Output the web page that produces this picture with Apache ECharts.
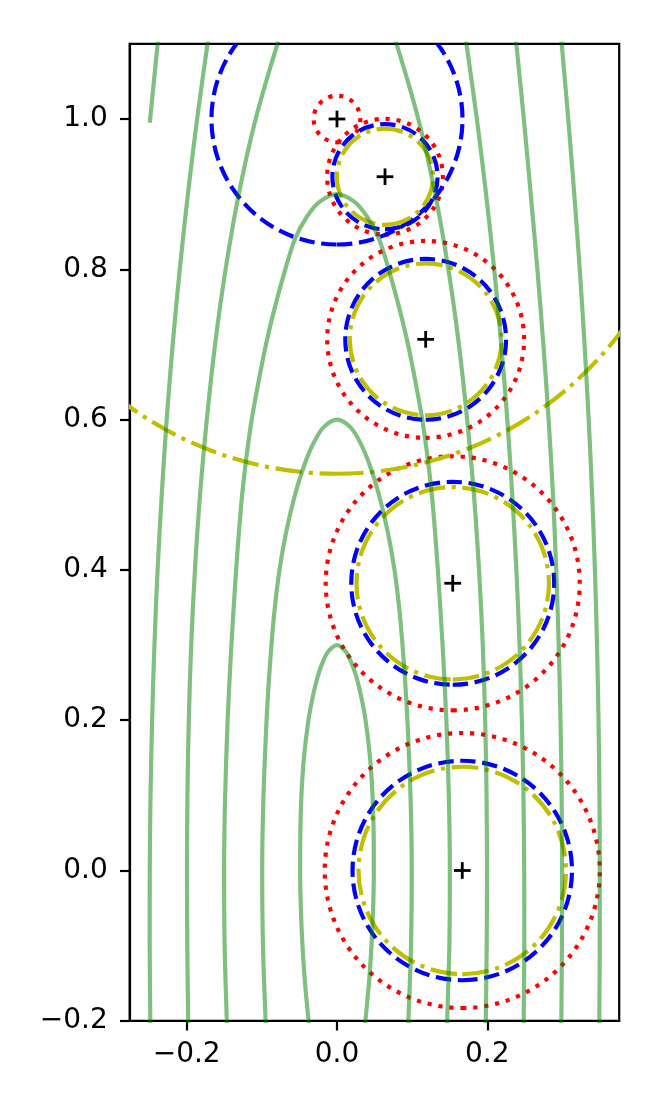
<!DOCTYPE html>
<html>
<head>
<meta charset="utf-8">
<script src="https://cdn.jsdelivr.net/npm/echarts@6.0.0/dist/echarts.min.js"></script>
<style>
html, body { margin: 0; padding: 0; background: #fff; }
#main { width: 664px; height: 1107px; }
</style>
</head>
<body>
<div id="main"></div>
<script>
// centres marked with "+"
var centers = [[0, 1.0], [0.0639, 0.9232], [0.118, 0.7068], [0.154, 0.3822], [0.1667, 0.0]];
// radius of each ring around the centres
var redRadius = [0.031, 0.077, 0.131, 0.169, 0.183];
var blueRadius = [0.167, 0.070, 0.107, 0.135, 0.146];
var yellowRadius = [0.472, 0.064, 0.101, 0.128, 0.138];

// green curves
// the three closed tops (y values from the left foot, over the top, to the right foot)
var capAY = [-0.23, -0.2, -0.15, -0.1, -0.05, 0, 0.05, 0.1, 0.15, 0.2, 0.23, 0.26, 0.28, 0.292, 0.3,
  0.292, 0.28, 0.26, 0.23, 0.2, 0.15, 0.1, 0.05, 0, -0.05, -0.1, -0.15, -0.2, -0.23];
var capAX = [-0.0345, -0.0378, -0.0425, -0.0459, -0.0481, -0.049, -0.0488, -0.0473, -0.044, -0.038, -0.0325, -0.0251, -0.0178, -0.0113, 0,
  0.0113, 0.0178, 0.0251, 0.0325, 0.038, 0.044, 0.0473, 0.0488, 0.049, 0.0481, 0.0459, 0.0425, 0.0378, 0.0345];
var capBY = [-0.23, -0.2, -0.1, 0, 0.1, 0.2, 0.25, 0.3, 0.35, 0.4, 0.45, 0.5, 0.54, 0.57, 0.59, 0.6,
  0.59, 0.57, 0.54, 0.5, 0.45, 0.4, 0.35, 0.3, 0.25, 0.2, 0.1, 0, -0.1, -0.2, -0.23];
var capBX = [-0.0937, -0.095, -0.0985, -0.0995, -0.0978, -0.0937, -0.0908, -0.0872, -0.0827, -0.0765, -0.0677, -0.0559, -0.0433, -0.0306, -0.0177, 0,
  0.0177, 0.0306, 0.0433, 0.0559, 0.0677, 0.0765, 0.0827, 0.0872, 0.0908, 0.0937, 0.0978, 0.0995, 0.0985, 0.095, 0.0937];
var capCY = [-0.23, -0.2, -0.1, 0, 0.1, 0.2, 0.3, 0.4, 0.45, 0.5, 0.55, 0.6, 0.65, 0.7, 0.75, 0.8, 0.84, 0.87, 0.89, 0.9,
  0.89, 0.87, 0.84, 0.8, 0.75, 0.7, 0.65, 0.6, 0.55, 0.5, 0.45, 0.4, 0.3, 0.2, 0.1, 0, -0.1, -0.2, -0.23];
var capCX = [-0.1455, -0.1466, -0.1495, -0.1502, -0.1488, -0.1455, -0.1405, -0.1342, -0.1305, -0.1262, -0.1205, -0.1135, -0.1045, -0.0945, -0.0825, -0.0688, -0.056, -0.04, -0.0229, 0,
  0.0229, 0.04, 0.056, 0.0688, 0.0825, 0.0945, 0.1045, 0.1135, 0.1205, 0.1262, 0.1305, 0.1342, 0.1405, 0.1455, 0.1488, 0.1502, 0.1495, 0.1466, 0.1455];

// the open branches, all sampled at the same heights
var branchY = [-0.23, -0.2, -0.1, 0, 0.1, 0.2, 0.3, 0.4, 0.5, 0.6, 0.7, 0.8, 0.9, 1.0, 1.1, 1.13];
var curve2LeftX = [-0.1976, -0.198, -0.1992, -0.1996, -0.199, -0.1972, -0.194, -0.189, -0.1822, -0.1732, -0.1622, -0.1482, -0.1307, -0.1082, -0.0792, -0.0681];
var curve2RightX = [0.1976, 0.198, 0.1992, 0.1996, 0.199, 0.1972, 0.194, 0.189, 0.1822, 0.1732, 0.1622, 0.1482, 0.1307, 0.1082, 0.0792, 0.0681];
var curve1LeftX = [-0.2482, -0.2484, -0.2492, -0.2491, -0.2481, -0.246, -0.2429, -0.2387, -0.2332, -0.2266, -0.2186, -0.2092, -0.1984, -0.1861, -0.1723, -0.1678];
var curve1RightX = [0.2482, 0.2484, 0.2492, 0.2491, 0.2481, 0.246, 0.2429, 0.2387, 0.2332, 0.2266, 0.2186, 0.2092, 0.1984, 0.1861, 0.1723, 0.1678];
var curve3RightX = [0.2983, 0.2985, 0.2993, 0.2995, 0.2989, 0.2974, 0.295, 0.2917, 0.2874, 0.2816, 0.2746, 0.2666, 0.2578, 0.2486, 0.2386, 0.2352];
var curve4RightX = [0.3488, 0.349, 0.3496, 0.3497, 0.3492, 0.348, 0.346, 0.3432, 0.3395, 0.3349, 0.3294, 0.323, 0.3157, 0.3077, 0.299, 0.2963];
// short piece at the top left
var curve3LeftY = [0.995, 1.0, 1.05, 1.1, 1.13];
var curve3LeftX = [-0.2491, -0.2486, -0.2436, -0.2386, -0.2352];

var xTicks = [-0.2, 0.0, 0.2];
var yTicks = [-0.2, 0.0, 0.2, 0.4, 0.6, 0.8, 1.0];

function zipXY(xs, ys) {
  return xs.map(function (x, i) {
    return [x, ys[i]];
  });
}

var greenCurves = [
  zipXY(capAX, capAY),
  zipXY(capBX, capBY),
  zipXY(capCX, capCY),
  zipXY(curve2LeftX, branchY),
  zipXY(curve2RightX, branchY),
  zipXY(curve1LeftX, branchY),
  zipXY(curve1RightX, branchY),
  zipXY(curve3LeftX, curve3LeftY),
  zipXY(curve3RightX, branchY),
  zipXY(curve4RightX, branchY)
];

var LW = 4.17;
var myChart = echarts.init(document.getElementById("main"));

function ringSeries(radius, color, dash) {
  var rows = centers.map(function (c, i) {
    return [c[0], c[1], radius[i]];
  });
  return {
    type: "custom",
    clip: true,
    silent: true,
    dimensions: ["x", "y", "r"],
    encode: { x: 0, y: 1 },
    data: rows,
    renderItem: function (params, api) {
      var p = api.coord([api.value(0), api.value(1)]);
      var r = api.size([api.value(2), 0])[0];
      // start at the bottom and run counter-clockwise, like a matplotlib Circle
      return {
        type: "arc",
        shape: { cx: p[0], cy: p[1], r: r, startAngle: Math.PI / 2, endAngle: Math.PI / 2 - 2 * Math.PI, clockwise: false },
        style: { fill: null, stroke: color, lineWidth: LW, lineDash: dash, lineCap: "butt" }
      };
    }
  };
}

function fmt(v) {
  return v.toFixed(1).replace("-", "\u2212");
}

var seriesData = [];
seriesData.push(ringSeries(redRadius, "#ff0000", [4.17, 6.88]));
seriesData.push(ringSeries(blueRadius, "#0000ff", [15.4, 6.67]));
seriesData.push(ringSeries(yellowRadius, "#bfbf00", [26.7, 6.67, 4.17, 6.67]));
seriesData.push({
  type: "custom",
  silent: true,
  encode: { x: 0, y: 1 },
  data: centers,
  renderItem: function (params, api) {
    var p = api.coord([api.value(0), api.value(1)]);
    var h = 8.35;
    var st = { stroke: "#000", lineWidth: 2.8 };
    return {
      type: "group",
      children: [
        { type: "line", shape: { x1: p[0] - h, y1: p[1], x2: p[0] + h, y2: p[1] }, style: st },
        { type: "line", shape: { x1: p[0], y1: p[1] - h, x2: p[0], y2: p[1] + h }, style: st }
      ]
    };
  }
});
greenCurves.forEach(function (pts) {
  seriesData.push({
    type: "line",
    data: pts,
    showSymbol: false,
    smooth: 0.3,
    clip: true,
    silent: true,
    lineStyle: { color: "#008000", opacity: 0.5, width: LW }
  });
});

var option = {
  animation: false,
  backgroundColor: "#fff",
  grid: {
    left: 129.7,
    right: 44.8,
    top: 43.85,
    bottom: 86.2,
    show: true,
    borderColor: "#000",
    borderWidth: 2.2
  },
  xAxis: {
    type: "value",
    min: -0.2758,
    max: 0.3755,
    splitLine: { show: false },
    axisLine: { onZero: false, lineStyle: { color: "#000", width: 2.2 } },
    axisTick: { customValues: xTicks, length: 9.7, lineStyle: { color: "#000", width: 2.2 } },
    axisLabel: {
      customValues: xTicks,
      formatter: fmt,
      margin: 20,
      color: "#000",
      fontSize: 28,
      fontFamily: "DejaVu Sans"
    }
  },
  yAxis: {
    type: "value",
    min: -0.2,
    max: 1.1,
    splitLine: { show: false },
    axisLine: { onZero: false, lineStyle: { color: "#000", width: 2.2 } },
    axisTick: { customValues: yTicks, length: 9.7, lineStyle: { color: "#000", width: 2.2 } },
    axisLabel: {
      customValues: yTicks,
      formatter: fmt,
      margin: 22,
      color: "#000",
      fontSize: 28,
      fontFamily: "DejaVu Sans"
    }
  },
  series: seriesData
};
myChart.setOption(option);
</script>
</body>
</html>
